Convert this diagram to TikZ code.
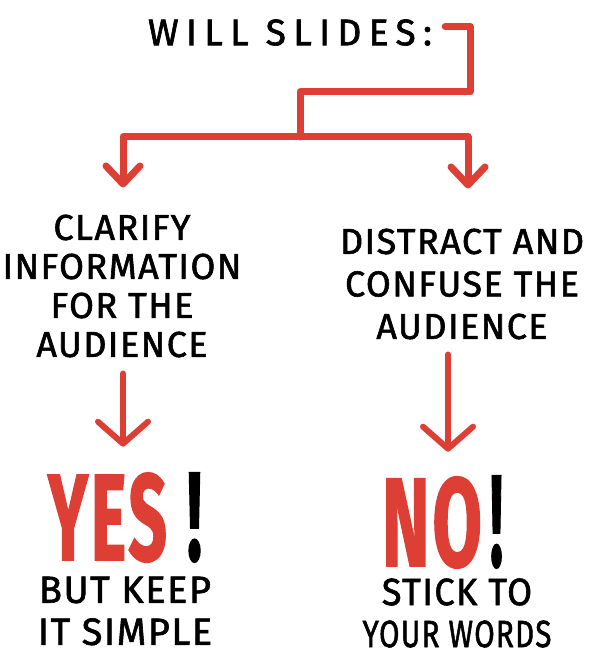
\documentclass[tikz,border=0pt]{standalone}
\usepackage{fontspec}
\setmainfont{Fira Sans}[LetterSpace=4,FakeBold=1.6]
\newfontfamily\titlefont{Fira Sans}[LetterSpace=20,FakeBold=1.8]
\usepackage{graphicx}
\usetikzlibrary{arrows.meta,positioning}
\definecolor{slidered}{HTML}{DD3F34}

\begin{document}
\begin{tikzpicture}[x=1pt,y=-1pt,
  hand/.style={inner sep=0pt,align=center,font=\fontsize{36}{#1}\selectfont},
  note/.style={inner sep=0pt,align=center,font=\fontsize{38}{42}\selectfont},
  wire/.style={draw=slidered,line width=#1,line cap=round,line join=round},
  wire/.default=7pt,
  smalltip/.style={-{Straight Barb[length=18pt,width=34pt,round]}},
  bigtip/.style={-{Straight Barb[length=22pt,width=50pt,round]}},
]
  \useasboundingbox[fill=white] (0,0) rectangle (603,652);

  \node[inner sep=0pt,font=\titlefont\fontsize{37}{40}\selectfont] (title) at (290,32.5) {WILL SLIDES:};
  \node[hand=39] (clarify) at (122,286) {CLARIFY\\INFORMATION\\FOR THE\\AUDIENCE};
  \node[hand=42.5] (distract) at (462,284) {DISTRACT AND\\CONFUSE THE\\AUDIENCE};

  \node[inner sep=0pt,font=\bfseries] (yes) at (125,517.5)
    {\textcolor{slidered}{\resizebox{119pt}{87pt}{YES}}\hspace{20pt}\resizebox{15pt}{87pt}{!}};
  \node[inner sep=0pt,font=\bfseries] (no) at (442.5,522)
    {\textcolor{slidered}{\resizebox{100pt}{89pt}{NO}}\hspace{8pt}\resizebox{13pt}{90pt}{!}};
  \node[note] (keep) at (125,611) {BUT KEEP\\IT SIMPLE};
  \node[note] (stick) at (457,613) {\scalebox{0.95}[1]{STICK TO}\\\scalebox{0.78}[1]{YOUR WORDS}};

  % the split under the question
  \coordinate (bend) at (470,92);
  \coordinate (split) at (300,137);
  \draw[wire] ([xshift=13pt,yshift=6pt]title.east) -| (bend) -| (split);
  \draw[wire,smalltip] (split) -| ([xshift=1pt,yshift=27pt]clarify.north);
  \draw[wire,smalltip] (split) -| ([xshift=6pt,yshift=40pt]distract.north);

  \draw[wire=6pt,bigtip] ([xshift=1pt,yshift=-16pt]clarify.south) -- ([xshift=-2pt,yshift=26pt]yes.north);
  \draw[wire=6pt,bigtip] ([xshift=-14pt,yshift=-15pt]distract.south) -- ([xshift=5.5pt,yshift=24pt]no.north);
\end{tikzpicture}
\end{document}
